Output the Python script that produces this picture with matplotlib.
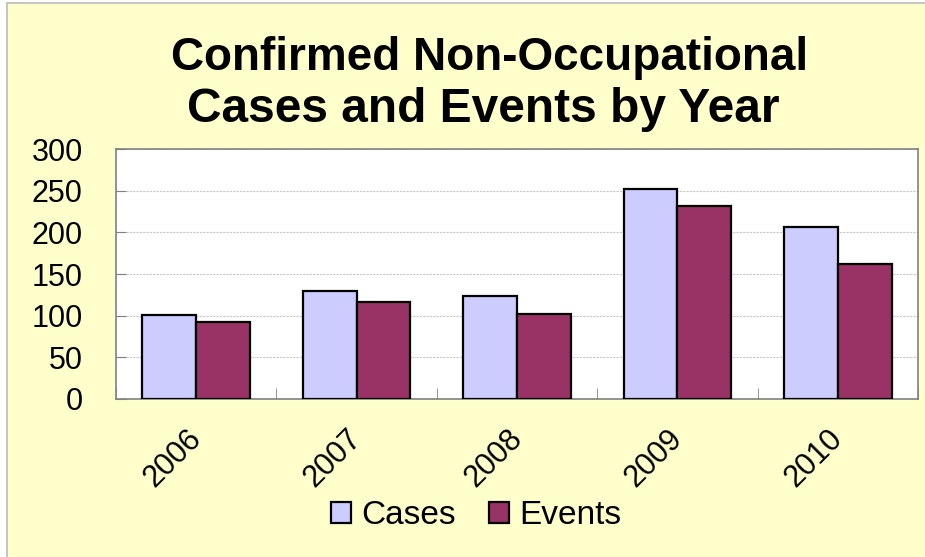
"""Confirmed Non-Occupational Cases and Events by Year (bar chart)."""

import matplotlib
matplotlib.use("Agg")
import matplotlib.pyplot as plt
import matplotlib.patches as mpatches
from matplotlib.transforms import ScaledTranslation
import numpy as np

plt.rcParams["font.family"] = ["Liberation Sans", "DejaVu Sans"]

YEARS = ["2006", "2007", "2008", "2009", "2010"]
CASES = [101, 129, 123, 252, 207]
EVENTS = [92, 116, 102, 232, 162]
Y_TICKS = [0, 50, 100, 150, 200, 250, 300]

BG = "#FFFFCC"
C_CASES = "#CCCCFF"
C_EVENTS = "#993366"

W, H = 925, 557


def draw() -> None:
    fig = plt.figure(figsize=(W / 100, H / 100), dpi=100, facecolor="white")

    # chart area (light yellow with gray border, cropped on right/bottom)
    bg = mpatches.Rectangle((7 / W, -0.05), 1.1, 1 - 3 / H + 0.05,
                            transform=fig.transFigure, facecolor=BG,
                            edgecolor="#BBBBBB", linewidth=1.2, zorder=-10)
    fig.patches.append(bg)

    ax = fig.add_axes([116 / W, 1 - 398.7 / H, (918 - 116) / W,
                       (398.7 - 149.3) / H])
    ax.set_facecolor("white")

    x = np.arange(len(YEARS))
    bw = 0.336
    ax.bar(x - bw / 2, CASES, bw, color=C_CASES, edgecolor="black",
           linewidth=1.6, zorder=3)
    ax.bar(x + bw / 2, EVENTS, bw, color=C_EVENTS, edgecolor="black",
           linewidth=1.6, zorder=3)

    ax.set_xlim(-0.5, len(YEARS) - 0.5)
    ax.set_ylim(0, 300)
    ax.set_yticks(Y_TICKS)
    ax.set_yticklabels([str(v) for v in Y_TICKS], fontsize=22)
    ax.tick_params(axis="y", direction="in", length=7, color="#808080",
                   pad=24)
    ax.yaxis.grid(True, color="#C8C8C8", linewidth=0.8, linestyle=(0, (2, 1)),
                  zorder=1)

    # category separators as minor ticks, labels at centres
    ax.set_xticks(np.arange(len(YEARS) + 1) - 0.5, minor=True)
    ax.tick_params(axis="x", which="minor", direction="in", length=8,
                   color="#808080")
    ax.set_xticks(x)
    ax.set_xticklabels(YEARS, fontsize=22, rotation=45, ha="right",
                       rotation_mode="anchor")
    ax.tick_params(axis="x", which="major", length=0, pad=16)
    shift = ScaledTranslation(-10 / 100, -3 / 100, fig.dpi_scale_trans)
    for lab in ax.get_xticklabels():
        lab.set_transform(lab.get_transform() + shift)

    for s in ax.spines.values():
        s.set_color("#808080")
        s.set_linewidth(1.2)

    fig.text(0.529, 1 - 70 / H, "Confirmed Non-Occupational", ha="center",
             va="baseline", fontsize=33, fontweight="bold")
    fig.text(0.522, 1 - 122 / H, "Cases and Events by Year", ha="center",
             va="baseline", fontsize=34.5, fontweight="bold")

    handles = [
        mpatches.Patch(facecolor=C_CASES, edgecolor="black", linewidth=1.6,
                       label="Cases"),
        mpatches.Patch(facecolor=C_EVENTS, edgecolor="black", linewidth=1.6,
                       label="Events"),
    ]
    fig.legend(handles=handles, loc="center", ncol=2, frameon=False,
               bbox_to_anchor=(476 / W, 1 - 516 / H), fontsize=24,
               handlelength=0.6, handleheight=0.6, handletextpad=0.3,
               columnspacing=1.0)

    fig.savefig("out.png", dpi=100, facecolor=fig.get_facecolor())


if __name__ == "__main__":
    draw()
